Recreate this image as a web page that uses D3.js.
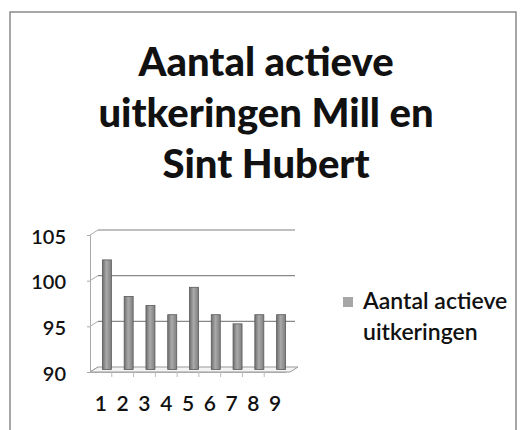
<!DOCTYPE html>
<html>
<head>
<meta charset="utf-8">
<script src="https://cdn.jsdelivr.net/npm/d3@7"></script>
<style>
  body { margin: 0; background: #fff; }
  svg { display: block; font-family: Lato, "Open Sans", sans-serif; }
</style>
</head>
<body>
<svg id="chart"></svg>
<script>
// data
var categories = ["1", "2", "3", "4", "5", "6", "7", "8", "9"];
var values = [102, 98, 97, 96, 99, 96, 95, 96, 96];
var yTicks = [90, 95, 100, 105];
var titleLines = ["Aantal actieve", "uitkeringen Mill en", "Sint Hubert"];
var legendLines = ["Aantal actieve", "uitkeringen"];

var width = 520;
var height = 430;

// 3d depth offset of the back wall
var depthX = 8;
var depthY = -5;

var svg = d3.select("#chart")
    .attr("width", width)
    .attr("height", height);

// outer frame (top and left edges visible in scan)
svg.append("path")
    .attr("d", "M10,430 L10,12 L516,12 L516,430")
    .attr("fill", "none")
    .attr("stroke", "#8a8a8a")
    .attr("stroke-width", 1.5);

// title
svg.append("g")
    .selectAll("text")
    .data(titleLines)
    .enter()
    .append("text")
        .attr("x", 266)
        .attr("y", (d, i) => 76 + i * 51)
        .attr("text-anchor", "middle")
        .attr("font-weight", 900)
        .attr("font-size", 40)
        .attr("fill", "#111")
        .text(d => d);

var xScale = d3.scaleBand()
    .domain(categories)
    .range([90, 286]);

var yScale = d3.scaleLinear()
    .domain([90, 105])
    .range([372, 235]);

var grid = svg.append("g");

// back wall gridlines + connecting slants
yTicks.forEach(function(t) {
    var y = yScale(t);
    if (t > 90) {
        grid.append("line")
            .attr("x1", 90 + depthX).attr("x2", 295)
            .attr("y1", y + depthY).attr("y2", y + depthY)
            .attr("stroke", t === 105 ? "#aaa" : "#888")
            .attr("stroke-width", 1.4);
    }
    grid.append("line")
        .attr("x1", 90).attr("x2", 90 + depthX)
        .attr("y1", y).attr("y2", y + depthY)
        .attr("stroke", "#aaa");
});

// floor
grid.append("path")
    .attr("d", "M90," + yScale(90) + " L290," + yScale(90) +
               " L" + (290 + depthX) + "," + (yScale(90) + depthY) +
               " L" + (90 + depthX) + "," + (yScale(90) + depthY) + " Z")
    .attr("fill", "#f4f4f4")
    .attr("stroke", "#999")
    .attr("stroke-width", 1);

// y axis
var yAxis = svg.append("g")
    .attr("transform", "translate(90,0)")
    .call(d3.axisLeft(yScale).tickValues(yTicks).tickSize(3).tickPadding(21));
yAxis.select(".domain").attr("stroke", "#aaa");
yAxis.selectAll(".tick line").attr("stroke", "#aaa");
yAxis.selectAll("text")
    .attr("font-size", 20)
    .attr("font-weight", 600)
    .attr("fill", "#111")
    .attr("dy", "0.4em")
    .style("font-family", "Lato, sans-serif");

// x axis
var xAxis = svg.append("g")
    .attr("transform", "translate(0," + yScale(90) + ")")
    .call(d3.axisBottom(xScale).tickSize(0).tickPadding(24));
xAxis.select(".domain").attr("stroke", "#aaa");
xAxis.selectAll("text")
    .attr("font-size", 21)
    .attr("font-weight", 600)
    .attr("fill", "#111")
    .style("font-family", "Lato, sans-serif");

// small category separators under the floor
xAxis.selectAll(".sep")
    .data(categories.slice(1))
    .enter()
    .append("line")
        .attr("x1", d => xScale(d))
        .attr("x2", d => xScale(d))
        .attr("y1", 0)
        .attr("y2", 5)
        .attr("stroke", "#bbb");

// cylinder-ish shading for the columns
var grad = svg.append("defs")
    .append("linearGradient")
        .attr("id", "barShade")
        .attr("x1", "0%").attr("x2", "100%");
grad.append("stop").attr("offset", "0%").attr("stop-color", "#6e6e6e");
grad.append("stop").attr("offset", "45%").attr("stop-color", "#aaaaaa");
grad.append("stop").attr("offset", "100%").attr("stop-color", "#7e7e7e");

var barWidth = 9;

svg.append("g")
    .selectAll("rect")
    .data(values)
    .enter()
    .append("rect")
        .attr("x", (d, i) => xScale(categories[i]) + xScale.bandwidth() / 2 + 6 - barWidth / 2)
        .attr("y", d => yScale(d) - 2.5)
        .attr("width", barWidth)
        .attr("height", d => yScale(90) - yScale(d))
        .attr("fill", "url(#barShade)")
        .attr("stroke", "#5a5a5a")
        .attr("stroke-width", 0.8);

// legend
var legend = svg.append("g");
legend.append("rect")
    .attr("x", 343).attr("y", 297)
    .attr("width", 10).attr("height", 10)
    .attr("fill", "#a6a6a6");
legend.selectAll("text")
    .data(legendLines)
    .enter()
    .append("text")
        .attr("x", 363)
        .attr("y", (d, i) => 309 + i * 31)
        .attr("font-size", 23)
        .attr("font-weight", 600)
        .attr("fill", "#111")
        .text(d => d);
</script>
</body>
</html>
